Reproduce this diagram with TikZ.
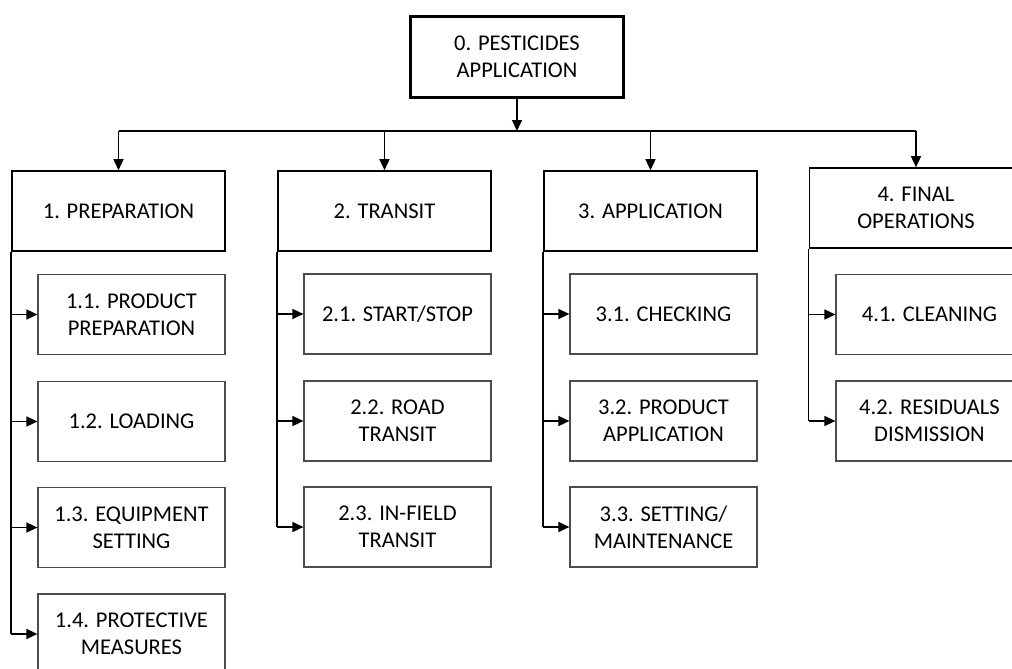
\documentclass[tikz,border=0pt]{standalone}
\usepackage{fontspec}
\setmainfont{Carlito}
\usetikzlibrary{arrows.meta,positioning}

\tikzset{
  raiz/.style={draw, line width=2.4pt, minimum width=213pt, minimum height=81pt, align=center},
  fase/.style={draw, line width=1.6pt, minimum width=213pt, minimum height=80pt, align=center},
  tarea/.style={draw=black!70, line width=1.2pt, minimum width=187pt, minimum height=80pt, align=center},
  flecha/.style={line width=1.5pt, -{Triangle[length=11pt,width=10pt]}},
  linea/.style={line width=1.5pt}
}

\begin{document}
\begin{tikzpicture}[x=1pt, y=-1pt, font=\fontsize{22.5}{27}\selectfont]
          % Marco de la figura
          \useasboundingbox (0,0) rectangle (1012,669);
          \clip (0,0) rectangle (1012,669);

          % Nodo principal
          \node[raiz] (p0) at (517,57) {0. PESTICIDES\\APPLICATION};

          % Fases
          \node[fase] (p1) at (118.5,211) {1. PREPARATION};
          \node[fase] (p2) at (384.5,211) {2. TRANSIT};
          \node[fase] (p3) at (650.5,211) {3. APPLICATION};
          \node[fase] (p4) at (916,208) {4. FINAL\\OPERATIONS};

          % Tareas
          \node[tarea] (p11) at (131.5,314.5) {1.1. PRODUCT\\PREPARATION};
          \node[tarea] (p12) at (131.5,421.5) {1.2. LOADING};
          \node[tarea] (p13) at (131.5,527.5) {1.3. EQUIPMENT\\SETTING};
          \node[tarea] (p14) at (131.5,634) {1.4. PROTECTIVE\\MEASURES};

          \node[tarea] (p21) at (397.5,314) {2.1. START/STOP};
          \node[tarea] (p22) at (397.5,421) {2.2. ROAD\\TRANSIT};
          \node[tarea] (p23) at (397.5,527) {2.3. IN-FIELD\\TRANSIT};

          \node[tarea] (p31) at (663.5,314) {3.1. CHECKING};
          \node[tarea] (p32) at (663.5,421) {3.2. PRODUCT\\APPLICATION};
          \node[tarea] (p33) at (663.5,527) {3.3. SETTING/\\MAINTENANCE};

          \node[tarea] (p41) at (929.5,314.5) {4.1. CLEANING};
          \node[tarea] (p42) at (929.5,421) {4.2. RESIDUALS\\DISMISSION};

          % Barra horizontal
          \coordinate (b0) at (517,131);
          \draw[flecha] (p0.south) -- (b0);
          \draw[linea] (p1.north |- b0) -- (p4.north |- b0);
          \foreach \f in {p1,p2,p3,p4}
            \draw[flecha] (\f.north |- b0) -- (\f.north);

          % Ramas verticales
          \draw[linea] (p1.south west) -- (p1.south west |- p14.west);
          \draw[linea] (p2.south west) -- (p2.south west |- p23.west);
          \draw[linea] (p3.south west) -- (p3.south west |- p33.west);
          \draw[linea] (p4.south west) -- (p4.south west |- p42.west);
          \foreach \t/\f in {p11/p1,p12/p1,p13/p1,p14/p1,p21/p2,p22/p2,p23/p2,p31/p3,p32/p3,p33/p3,p41/p4,p42/p4}
            \draw[flecha] (\f.south west |- \t.west) -- (\t.west);

        \end{tikzpicture}
\end{document}
